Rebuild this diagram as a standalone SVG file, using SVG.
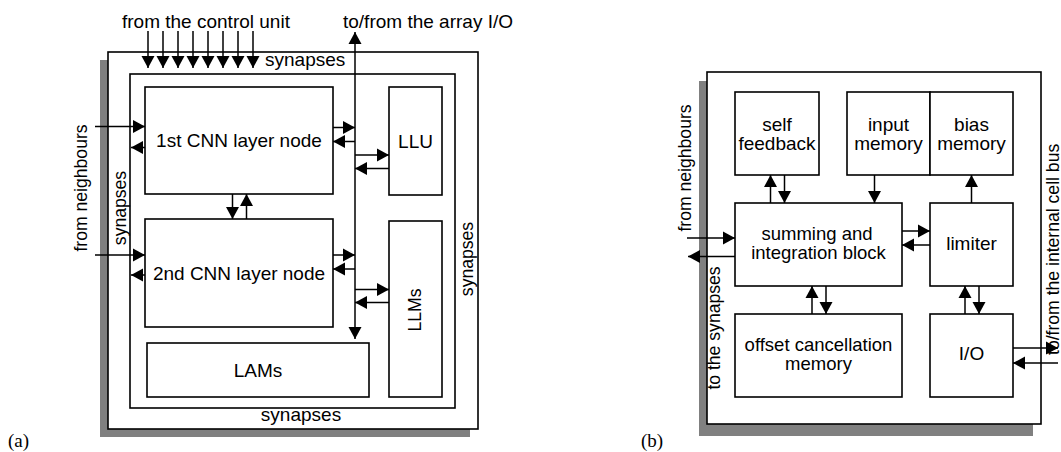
<svg xmlns="http://www.w3.org/2000/svg" width="1061" height="452" viewBox="0 0 1061 452">
<defs>
<marker id="ah" markerUnits="userSpaceOnUse" markerWidth="13" markerHeight="14" refX="12" refY="6.5" orient="auto-start-reverse" viewBox="0 0 13 13">
<path d="M0,0 L12,6.5 L0,13 Z" fill="#000"/>
</marker>
</defs>
<style>
.box{fill:#fff;stroke:#000;stroke-width:1.6}
.frame{fill:none;stroke:#000;stroke-width:1.6}
.shadow{fill:#808080}
.t{font-family:"Liberation Sans",Arial,sans-serif;font-size:19px;fill:#000}
.t2{font-family:"Liberation Sans",Arial,sans-serif;font-size:18.5px;fill:#000}
.v{font-family:"Liberation Sans",Arial,sans-serif;font-size:17.6px;fill:#000}
.m{text-anchor:middle}
.lbl{font-family:"Liberation Serif","Times New Roman",serif;font-size:19px;fill:#000}
.c line{stroke:#000;stroke-width:1.5;marker-end:url(#ah)}
.c line.bi{marker-start:url(#ah)}
</style>
<rect width="1061" height="452" fill="#fff"/>

<!-- (a) -->
<g id="cell-a">
<rect class="shadow" x="100" y="60" width="370" height="377"/>
<rect class="box" x="108" y="52" width="370" height="377"/>
<rect class="frame" x="130" y="74" width="325" height="334"/>
<text class="t" x="265" y="66">synapses</text>
<text class="t m" x="301" y="421">synapses</text>
<text class="v m" transform="translate(126,208) rotate(-90)">synapses</text>
<text class="v m" transform="translate(473,259) rotate(-90)">synapses</text>
</g>
<g id="cnn1">
<rect class="box" x="145" y="87" width="188" height="107"/>
<text class="t m" x="239" y="147">1st CNN layer node</text>
</g>
<g id="cnn2">
<rect class="box" x="145" y="219" width="188" height="108"/>
<text class="t m" x="239" y="280">2nd CNN layer node</text>
</g>
<g id="lams">
<rect class="box" x="147" y="343" width="222" height="54"/>
<text class="t m" x="258" y="377">LAMs</text>
</g>
<g id="llu">
<rect class="box" x="389" y="87" width="53" height="108"/>
<text class="t m" x="415.5" y="148">LLU</text>
</g>
<g id="llms">
<rect class="box" x="389" y="221" width="53" height="176"/>
<text class="v m" transform="translate(421,310) rotate(-90)">LLMs</text>
</g>
<g id="labels-a">
<text class="t" x="122" y="28">from the control unit</text>
<text class="t" x="343" y="28">to/from the array I/O</text>
<text class="v m" transform="translate(87,188) rotate(-90)">from neighbours</text>
<text class="lbl" x="8" y="447">(a)</text>
</g>

<!-- (b) -->
<g id="cell-b">
<rect class="shadow" x="699" y="81" width="334" height="355"/>
<rect class="box" x="707" y="72" width="334" height="352"/>
</g>
<g id="self-feedback">
<rect class="box" x="735" y="92" width="84" height="83"/>
<text class="t m" x="777" y="131">self</text>
<text class="t m" x="777" y="150">feedback</text>
</g>
<g id="input-memory">
<rect class="box" x="847" y="92" width="83" height="83"/>
<text class="t m" x="888.5" y="131">input</text>
<text class="t m" x="888.5" y="150">memory</text>
</g>
<g id="bias-memory">
<rect class="box" x="930" y="92" width="83" height="83"/>
<text class="t m" x="971.5" y="131">bias</text>
<text class="t m" x="971.5" y="150">memory</text>
</g>
<g id="summing">
<rect class="box" x="735" y="203" width="167" height="83"/>
<text class="t2 m" x="817" y="240">summing and</text>
<text class="t2 m" x="818.5" y="259">integration block</text>
</g>
<g id="limiter">
<rect class="box" x="930" y="203" width="83" height="83"/>
<text class="t m" x="971.5" y="250">limiter</text>
</g>
<g id="offset">
<rect class="box" x="735" y="314" width="167" height="83"/>
<text class="t2 m" x="818.5" y="351">offset cancellation</text>
<text class="t2 m" x="818.5" y="370">memory</text>
</g>
<g id="io">
<rect class="box" x="930" y="314" width="83" height="83"/>
<text class="t m" x="971.5" y="360">I/O</text>
</g>
<g id="labels-b">
<text class="v m" transform="translate(691,168) rotate(-90)">from neighbours</text>
<text class="v m" transform="translate(720,328) rotate(-90)">to the synapses</text>
<text class="v" transform="translate(1059,355) rotate(-90)">to/from the internal cell bus</text>
<text class="lbl" x="641" y="447">(b)</text>
</g>

<g id="connectors" class="c">
<!-- control unit -->
<line x1="148" y1="31" x2="148" y2="68"/>
<line x1="163" y1="31" x2="163" y2="68"/>
<line x1="178" y1="31" x2="178" y2="68"/>
<line x1="193" y1="31" x2="193" y2="68"/>
<line x1="208" y1="31" x2="208" y2="68"/>
<line x1="223" y1="31" x2="223" y2="68"/>
<line x1="238" y1="31" x2="238" y2="68"/>
<line x1="253" y1="31" x2="253" y2="68"/>
<!-- array bus -->
<line class="bi" x1="355" y1="339" x2="355" y2="32"/>
<line x1="333" y1="127.5" x2="355" y2="127.5"/>
<line x1="355" y1="141.5" x2="333" y2="141.5"/>
<line x1="355" y1="155" x2="389" y2="155"/>
<line x1="389" y1="168.5" x2="355" y2="168.5"/>
<line x1="333" y1="255" x2="355" y2="255"/>
<line x1="355" y1="269" x2="333" y2="269"/>
<line x1="355" y1="289.5" x2="389" y2="289.5"/>
<line x1="389" y1="302.5" x2="355" y2="302.5"/>
<!-- between layers -->
<line x1="232.5" y1="194" x2="232.5" y2="219"/>
<line x1="246.5" y1="219" x2="246.5" y2="194"/>
<!-- neighbours (a) -->
<line x1="95" y1="126.5" x2="145" y2="126.5"/>
<line x1="145" y1="147.5" x2="131" y2="147.5"/>
<line x1="95" y1="255" x2="145" y2="255"/>
<line x1="145" y1="275" x2="131" y2="275"/>
<!-- (b) -->
<line x1="770.5" y1="203" x2="770.5" y2="175"/>
<line x1="784.5" y1="175" x2="784.5" y2="203"/>
<line x1="874.5" y1="175" x2="874.5" y2="203"/>
<line x1="971.5" y1="203" x2="971.5" y2="175"/>
<line x1="902" y1="231" x2="930" y2="231"/>
<line x1="930" y1="245" x2="902" y2="245"/>
<line x1="812" y1="314" x2="812" y2="286"/>
<line x1="826" y1="286" x2="826" y2="314"/>
<line x1="965" y1="314" x2="965" y2="286"/>
<line x1="979" y1="286" x2="979" y2="314"/>
<line x1="1013" y1="348" x2="1058" y2="348"/>
<line x1="1058" y1="363" x2="1013" y2="363"/>
<line x1="687" y1="238" x2="735" y2="238"/>
<line x1="735" y1="256.5" x2="688" y2="256.5"/>
</g>
</svg>
